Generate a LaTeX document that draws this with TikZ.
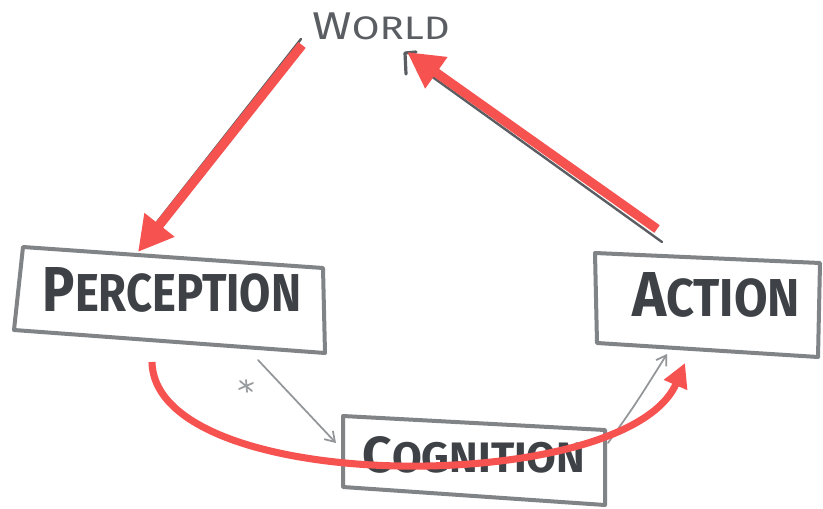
\documentclass[tikz,border=0pt]{standalone}
\usepackage{fontspec}
\setmainfont{Fira Sans}
\usepackage{graphicx}
\usetikzlibrary{arrows.meta,calc}
\definecolor{redarrow}{RGB}{245,82,80}
\definecolor{ink}{RGB}{62,66,70}
\definecolor{boxgray}{RGB}{128,132,135}
\definecolor{pencil}{RGB}{90,94,98}
\newcommand\mysc[2]{#1\scalebox{0.84}{#2}}
\begin{document}
\begin{tikzpicture}[x=0.75pt,y=-0.75pt, line join=round, line cap=round,
  boxline/.style={draw=boxgray, line width=3pt},
  lbl/.style={text=ink, inner sep=0pt, font=\bfseries},
  sketch/.style={draw=pencil, line width=1.8pt},
  thinarrow/.style={draw=boxgray!85, line width=1.3pt, -{Straight Barb[length=7pt,width=9pt]}},
  redarr/.style={draw=redarrow, line cap=butt},
]
\useasboundingbox (0,0) rectangle (823,509);
\fill[white] (0,0) rectangle (823,509);

% ---- box corners
\coordinate (p1) at (23,247); \coordinate (p2) at (323,268);
\coordinate (p3) at (325,353); \coordinate (p4) at (14,330);
\coordinate (a1) at (595,253); \coordinate (a2) at (820,263);
\coordinate (a3) at (818,357); \coordinate (a4) at (597,343);
\coordinate (c1) at (343,416); \coordinate (c2) at (605,430);
\coordinate (c3) at (605,505); \coordinate (c4) at (343,487);

\draw[boxline] (p1) -- (p2) -- (p3) -- (p4) -- cycle;
\draw[boxline] (a1) -- (a2) -- (a3) -- (a4) -- cycle;
\draw[boxline] (c1) -- (c2) -- (c3) -- (c4) -- cycle;

% ---- labels
\node[text=pencil, inner sep=0pt] (world) at (381,26)
  {\resizebox{103pt}{20pt}{\mysc{W}{ORLD}}};
\node[lbl] (perception) at (172,290)
  {\resizebox{194pt}{33pt}{\mysc{P}{ERCEPTION}}};
\node[lbl] (action) at (716,295)
  {\resizebox{126pt}{33pt}{\mysc{A}{CTION}}};
\node[lbl] (cognition) at (474,455)
  {\resizebox{167pt}{27pt}{\mysc{C}{OGNITION}}};

% ---- pencil sketch connectors (under the red ones)
\coordinate (ws) at (301,39);  \coordinate (pe) at (143,240);
\coordinate (as) at (662,242); \coordinate (we) at (420,68);
\draw[sketch] (ws) -- (pe);
\draw[sketch] (as) -- (we);
\coordinate (wh1) at (406,74); \coordinate (wh2) at (405,53); \coordinate (wh3) at (416,52);
\draw[sketch, line width=2.4pt] (wh1) -- (wh2) -- (wh3);

\coordinate (pc1) at (258,360); \coordinate (pc2) at (336,443);
\coordinate (ca1) at (608,443); \coordinate (ca2) at (667,354);
\draw[thinarrow] (pc1) -- (pc2);
\draw[thinarrow] (ca1) .. controls (635,405) .. (ca2);

% smudge
\coordinate (sm) at (246,386);
\draw[draw=boxgray!80, line width=1.3pt] ($(sm)+(-6,-5)$) -- ($(sm)+(6,5)$)
  ($(sm)+(-7,3)$) -- ($(sm)+(7,-3)$) ($(sm)+(0,-6)$) -- ($(sm)+(1,6)$);

% ---- red arrows
\coordinate (r1s) at (302,45);  \coordinate (r1e) at (138,252);
\coordinate (r2s) at (657,229); \coordinate (r2e) at (407,52);
\coordinate (r3s) at (152,362); \coordinate (r3e) at (685,363);
\draw[redarr, line width=7pt, -{Triangle[length=26pt,width=27pt]}] (r1s) -- (r1e);
\draw[redarr, line width=7pt, -{Triangle[length=27pt,width=27pt]}] (r2s) -- (r2e);
\draw[redarr, line width=5.3pt, -{Triangle[length=18pt,width=18pt]}]
  (r3s) .. controls (155,497) and (627,497) .. (r3e);
\end{tikzpicture}
\end{document}
